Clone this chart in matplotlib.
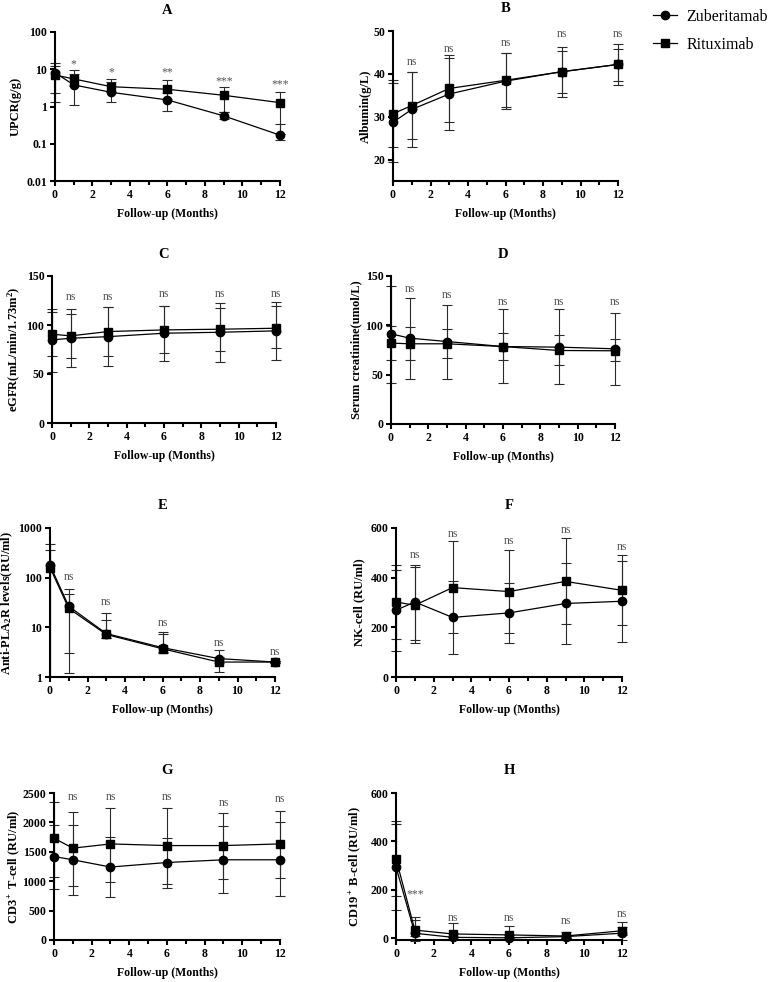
import matplotlib
matplotlib.use("Agg")
import matplotlib.pyplot as plt
import matplotlib.transforms as mtransforms
from matplotlib.lines import Line2D
from matplotlib.ticker import FixedLocator, NullLocator

plt.rcParams['font.family'] = ['Liberation Serif', 'DejaVu Serif']
plt.rcParams['mathtext.fontset'] = 'custom'
plt.rcParams['mathtext.rm'] = 'Liberation Serif:bold'
plt.rcParams['mathtext.it'] = 'Liberation Serif:bold'
plt.rcParams['mathtext.bf'] = 'Liberation Serif:bold'
plt.rcParams['mathtext.default'] = 'rm'

# ---------------- data ----------------
months = [0, 1, 3, 6, 9, 12]
series_names = ["Zuberitamab", "Rituximab"]
xticks = [0, 2, 4, 6, 8, 10, 12]

# A: UPCR (g/g)
upcr_zub = [8.1, 3.8, 2.4, 1.5, 0.56, 0.17]
upcr_zub_lo = [1.3, 1.07, 1.35, 0.74, 0.45, 0.13]
upcr_zub_hi = [14.5, 7.5, 4.5, 2.3, 0.7, 0.33]
upcr_rit = [7.0, 5.5, 3.4, 2.9, 2.0, 1.27]
upcr_rit_lo = [2.3, 3.5, 2.4, 1.6, 0.72, 0.18]
upcr_rit_hi = [12.4, 9.6, 5.5, 5.1, 3.4, 2.4]
sig_A = ["*", "*", "**", "***", "***"]
sig_A_y = [11.2, 6.8, 6.8, 3.9, 3.25]

# B: Albumin (g/L)
alb_zub = [28.7, 31.7, 35.3, 38.3, 40.5, 42.2]
alb_zub_lo = [19.5, 22.9, 26.8, 31.8, 34.6, 37.4]
alb_zub_hi = [37.9, 40.4, 43.8, 44.8, 46.3, 47.0]
alb_rit = [30.7, 32.6, 36.6, 38.5, 40.5, 42.2]
alb_rit_lo = [23.0, 24.9, 28.8, 32.2, 35.5, 38.3]
alb_rit_hi = [38.5, 40.4, 44.3, 44.8, 45.4, 45.9]
sig_B = ["ns"] * 5
sig_B_y = [42.1, 45.2, 46.5, 48.7, 48.7]

# C: eGFR
egfr_zub = [84.8, 86.5, 88.1, 91.6, 92.6, 94.0]
egfr_zub_lo = [52, 57, 58.3, 63.4, 62.7, 64.4]
egfr_zub_hi = [116, 116, 118.8, 119.6, 122, 123]
egfr_rit = [90.6, 88.9, 93.3, 95.0, 95.7, 96.7]
egfr_rit_lo = [68, 66, 68.5, 71.2, 73, 76.3]
egfr_rit_hi = [113, 111, 118, 119, 117, 119]
sig_C = ["ns"] * 5
sig_C_y = [125.7, 125.7, 128.8, 128.8, 128.8]

# D: Serum creatinine
scr_zub = [91.4, 87.0, 83.6, 78.5, 77.9, 76.2]
scr_zub_lo = [42, 45.5, 45.8, 41.5, 40.5, 39.8]
scr_zub_hi = [140, 128.1, 120.4, 116.4, 116.4, 113]
scr_rit = [82.0, 81.3, 81.3, 78.5, 74.5, 74.2]
scr_rit_lo = [65, 64.4, 66.4, 64.4, 59.7, 63.4]
scr_rit_hi = [99, 98.8, 96.2, 92.7, 90.1, 86]
sig_D = ["ns"] * 5
sig_D_y = [134.1, 127.6, 120.5, 120.5, 120.5]

# E: Anti-PLA2R
pla_zub = [178, 26.5, 7.5, 3.9, 2.35, 2.0]
pla_zub_lo = [None, 3.0, 6.0, 3.2, 1.9, 1.9]
pla_zub_hi = [470, 59, 19.4, 8.1, 3.5, 2.1]
pla_rit = [160, 24, 7.2, 3.7, 2.0, 2.0]
pla_rit_lo = [None, 1.23, 6.0, 3.1, 1.26, 1.9]
pla_rit_hi = [367, 46.5, 14.0, 7.3, 2.5, 2.1]
sig_E = ["ns"] * 5
sig_E_y = [91.8, 27.6, 10.6, 4.19, 2.76]

# F: NK-cell
nk_zub = [269, 302, 240, 258, 296, 305]
nk_zub_lo = [106, 151, 94, 138, 133, 142]
nk_zub_hi = [432, 453, 386, 378, 459, 468]
nk_rit = [302, 289, 360, 344, 385, 349]
nk_rit_lo = [155, 136, 176, 178, 213, 209]
nk_rit_hi = [449, 442, 546, 512, 560, 492]
sig_F = ["ns"] * 5
sig_F_y = [479, 562, 535, 579, 512]

# G: CD3+ T-cell
cd3_zub = [1420, 1364, 1241, 1318, 1364, 1364]
cd3_zub_lo = [870, 770, 730, 880, 800, 750]
cd3_zub_hi = [1960, 1960, 1750, 1740, 1940, 2000]
cd3_rit = [1731, 1562, 1634, 1606, 1606, 1634]
cd3_rit_lo = [1070, 910, 980, 950, 1030, 1050]
cd3_rit_hi = [2350, 2180, 2250, 2240, 2160, 2200]
sig_G = ["ns"] * 5
sig_G_y = [2374, 2374, 2374, 2280, 2347]

# H: CD19+ B-cell
cd19_zub = [295, 21, 4, 2, 7, 21]
cd19_zub_lo = [117, -10, -5, -3, 0, -7]
cd19_zub_hi = [473, 75, 20, 15, 15, 48]
cd19_rit = [329, 34, 18, 14, 9.5, 31]
cd19_rit_lo = [174, 10, 5, 5, 3, 15]
cd19_rit_hi = [484, 89, 62, 52, 27, 68]
sig_H = ["***", "ns", "ns", "ns", "ns"]
sig_H_y = [169, 72, 72, 58, 90]

# ---------------- layout ----------------
W, H = 772, 982
fig = plt.figure(figsize=(W / 100, H / 100), dpi=100)

def make_ax(l, t, r, b):
    return fig.add_axes([l / W, 1 - b / H, (r - l) / W, (b - t) / H])

panels = [
    dict(box=(55, 32, 280, 181), title="A", ylabel="UPCR(g/g)", ylr=22,
         data=(upcr_zub, upcr_zub_lo, upcr_zub_hi, upcr_rit, upcr_rit_lo, upcr_rit_hi),
         log=True, ylim=(0.01, 100), yticks=[0.01, 0.1, 1, 10, 100],
         yticklabels=["0.01", "0.1", "1", "10", "100"], sig=sig_A, sig_y=sig_A_y),
    dict(box=(393, 31, 618, 181), title="B", ylabel="Albumin(g/L)", ylr=372,
         data=(alb_zub, alb_zub_lo, alb_zub_hi, alb_rit, alb_rit_lo, alb_rit_hi),
         log=False, ylim=(15, 50), yticks=[20, 30, 40, 50], sig=sig_B, sig_y=sig_B_y),
    dict(box=(52, 276, 276, 423), title="C", ylabel=r"eGFR(mL/min/1.73m$^2$)", ylr=23,
         data=(egfr_zub, egfr_zub_lo, egfr_zub_hi, egfr_rit, egfr_rit_lo, egfr_rit_hi),
         log=False, ylim=(0, 150), yticks=[0, 50, 100, 150], sig=sig_C, sig_y=sig_C_y),
    dict(box=(391, 276, 615, 424), title="D", ylabel="Serum creatinine(umol/L)", ylr=362,
         data=(scr_zub, scr_zub_lo, scr_zub_hi, scr_rit, scr_rit_lo, scr_rit_hi),
         log=False, ylim=(0, 150), yticks=[0, 50, 100, 150], sig=sig_D, sig_y=sig_D_y),
    dict(box=(50, 528, 275, 677), title="E", ylabel=r"Anti-PLA$_2$R levels(RU/ml)", ylr=15,
         data=(pla_zub, pla_zub_lo, pla_zub_hi, pla_rit, pla_rit_lo, pla_rit_hi),
         log=True, ylim=(1, 1000), yticks=[1, 10, 100, 1000],
         yticklabels=["1", "10", "100", "1000"], sig=sig_E, sig_y=sig_E_y),
    dict(box=(396, 528, 622, 677), title="F", ylabel="NK-cell (RU/ml)", ylr=365,
         data=(nk_zub, nk_zub_lo, nk_zub_hi, nk_rit, nk_rit_lo, nk_rit_hi),
         log=False, ylim=(0, 600), yticks=[0, 200, 400, 600], sig=sig_F, sig_y=sig_F_y),
    dict(box=(54, 793, 280, 940), title="G", ylabel=r"CD3$^+$ T-cell (RU/ml)", ylr=22,
         data=(cd3_zub, cd3_zub_lo, cd3_zub_hi, cd3_rit, cd3_rit_lo, cd3_rit_hi),
         log=False, ylim=(0, 2500), yticks=[0, 500, 1000, 1500, 2000, 2500],
         sig=sig_G, sig_y=sig_G_y),
    dict(box=(396, 793, 622, 940), title="H", ylabel=r"CD19$^+$ B-cell (RU/ml)", ylr=363,
         data=(cd19_zub, cd19_zub_lo, cd19_zub_hi, cd19_rit, cd19_rit_lo, cd19_rit_hi),
         log=False, ylim=(-7, 600), yticks=[0, 200, 400, 600], sig=sig_H, sig_y=sig_H_y),
]

ERR_C = "#2a2a2a"
ANN_C = "#555555"
SPINE_W = 1.5

def draw_err(ax, xs, ys, los, his, ybottom):
    for x, y, lo, hi in zip(xs, ys, los, his):
        lo_v = ybottom if lo is None else lo
        ax.vlines(x, lo_v, hi, colors=ERR_C, lw=0.8, zorder=2, clip_on=False)
        ax.plot([x], [hi], marker="_", ms=6.5, mew=0.8, color=ERR_C, zorder=2, clip_on=False)
        if lo is not None:
            ax.plot([x], [lo], marker="_", ms=6.5, mew=0.8, color=ERR_C, zorder=2, clip_on=False)

for p in panels:
    l, t, r, b = p["box"]
    ax = make_ax(l, t, r, b)
    zub, zlo, zhi, rit, rlo, rhi = p["data"]
    if p["log"]:
        ax.set_yscale("log")
    ax.set_ylim(*p["ylim"])
    ax.set_xlim(0, 12)
    draw_err(ax, months, zub, zlo, zhi, p["ylim"][0])
    draw_err(ax, months, rit, rlo, rhi, p["ylim"][0])
    ax.plot(months, zub, color="black", lw=0.9, marker="o", ms=6, zorder=4, clip_on=False)
    ax.plot(months, rit, color="black", lw=0.9, marker="s", ms=6, zorder=4, clip_on=False)

    for x, s, yy in zip(months[1:], p["sig"], p["sig_y"]):
        ax.text(x, yy, s, ha="center", va="baseline", fontsize=8.5, color=ANN_C, clip_on=False)

    # axes styling
    for side in ("top", "right"):
        ax.spines[side].set_visible(False)
    for side in ("left", "bottom"):
        ax.spines[side].set_linewidth(SPINE_W)
    ax.set_xticks(xticks)
    ax.set_xticklabels([str(v) for v in xticks])
    ax.xaxis.set_minor_locator(FixedLocator([1, 3, 5, 7, 9, 11]))
    ax.yaxis.set_major_locator(FixedLocator(p["yticks"]))
    ax.yaxis.set_minor_locator(NullLocator())
    if "yticklabels" in p:
        ax.set_yticklabels(p["yticklabels"])
    else:
        ax.set_yticklabels([str(v) for v in p["yticks"]])
    ax.tick_params(which="major", direction="out", length=3.5, width=SPINE_W, labelsize=8.5, pad=2)
    ax.tick_params(which="minor", direction="out", length=3, width=SPINE_W)
    for lab in ax.get_xticklabels() + ax.get_yticklabels():
        lab.set_fontweight("bold")

    ax.set_ylabel(p["ylabel"], fontsize=9, fontweight="bold")
    ax.yaxis.set_label_coords(p["ylr"] / W, 0.5,
                              transform=mtransforms.blended_transform_factory(fig.transFigure, ax.transAxes))
    ax.set_xlabel("Follow-up (Months)", fontsize=8.5, fontweight="bold")
    ax.xaxis.set_label_coords(0.5, 1 - (b + 27) / H,
                              transform=mtransforms.blended_transform_factory(ax.transAxes, fig.transFigure))
    ax.text(0.5, 1 - (t - 22) / H, p["title"], transform=mtransforms.blended_transform_factory(ax.transAxes, fig.transFigure),
            ha="center", va="center", fontsize=10.5, fontweight="bold")

handles = [Line2D([], [], color="black", lw=0.9, marker="o", ms=6),
           Line2D([], [], color="black", lw=0.9, marker="s", ms=6)]
fig.legend(handles, series_names, loc="center left", bbox_to_anchor=(653 / W, 1 - 31 / H),
           frameon=False, fontsize=11.5, handlelength=1.5, handletextpad=0.6,
           labelspacing=0.75, borderpad=0, borderaxespad=0)

fig.savefig("out.png", dpi=100)
